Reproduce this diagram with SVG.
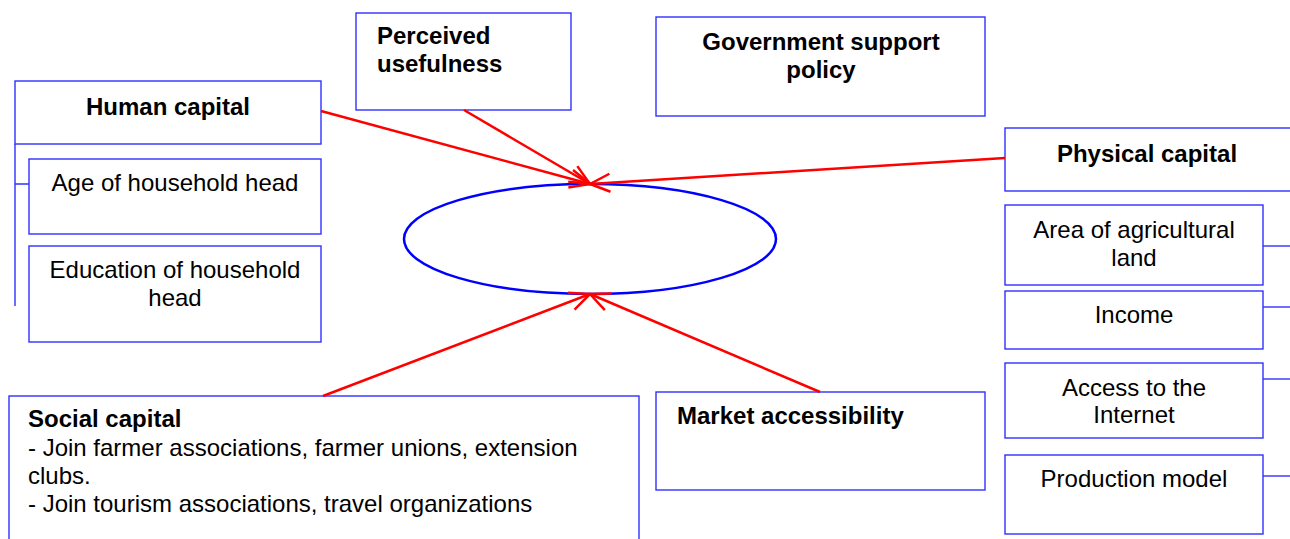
<svg xmlns="http://www.w3.org/2000/svg" width="1290" height="539" viewBox="0 0 1290 539">
<style>
.box{fill:#fff;stroke:#3030ff;stroke-width:1.4}
.ln{fill:none;stroke:#3030ff;stroke-width:1.4}
.t{font-family:"Liberation Sans",Arial,sans-serif;font-size:24px;fill:#000}
.b{font-weight:bold}
.c{text-anchor:middle}
.arr{fill:none;stroke:#ff0000;stroke-width:2.5}
</style>
<defs>
<marker id="ah" markerUnits="userSpaceOnUse" markerWidth="26" markerHeight="26" viewBox="-24 -13 26 26" refX="0" refY="0" orient="auto">
<path d="M-20,-9 L0,0 L-20,9" fill="none" stroke="#ff0000" stroke-width="2.5"/>
</marker>
</defs>
<rect width="1290" height="539" fill="#fff"/>
<g id="outcome"><ellipse cx="590" cy="239" rx="186" ry="55" fill="none" stroke="#0000ff" stroke-width="2.5"/></g>
<g id="human-capital">
<rect class="box" x="15" y="81" width="306" height="63"/>
<text class="t b c" x="168" y="115">Human capital</text>
<path class="ln" d="M15,144 V306 M15,184 H29"/>
</g>
<g id="age">
<rect class="box" x="29" y="159" width="292" height="75"/>
<text class="t c" x="175" y="191">Age of household head</text>
</g>
<g id="education">
<rect class="box" x="29" y="246" width="292" height="96"/>
<text class="t c" x="175" y="278">Education of household</text>
<text class="t c" x="175" y="306">head</text>
</g>
<g id="perceived">
<rect class="box" x="356" y="13" width="215" height="97"/>
<text class="t b" x="377" y="44">Perceived</text>
<text class="t b" x="377" y="72">usefulness</text>
</g>
<g id="government">
<rect class="box" x="656" y="17" width="329" height="99"/>
<text class="t b c" x="821" y="50">Government support</text>
<text class="t b c" x="821" y="78">policy</text>
</g>
<g id="physical-capital">
<rect class="box" x="1005" y="128" width="290" height="63"/>
<text class="t b c" x="1147" y="162">Physical capital</text>
</g>
<g id="area">
<rect class="box" x="1005" y="205" width="258" height="80"/>
<text class="t c" x="1134" y="238">Area of agricultural</text>
<text class="t c" x="1134" y="266">land</text>
<path class="ln" d="M1263,246 H1290"/>
</g>
<g id="income">
<rect class="box" x="1005" y="291" width="258" height="58"/>
<text class="t c" x="1134" y="323">Income</text>
<path class="ln" d="M1263,307 H1290"/>
</g>
<g id="internet">
<rect class="box" x="1005" y="363" width="258" height="75"/>
<text class="t c" x="1134" y="396">Access to the</text>
<text class="t c" x="1134" y="423">Internet</text>
<path class="ln" d="M1263,379 H1290"/>
</g>
<g id="production">
<rect class="box" x="1005" y="455" width="258" height="79"/>
<text class="t c" x="1134" y="487">Production model</text>
<path class="ln" d="M1263,476 H1290"/>
</g>
<g id="social-capital">
<rect class="box" x="9" y="396" width="630" height="150"/>
<text class="t b" x="28" y="427">Social capital</text>
<text class="t" x="28" y="456">- Join farmer associations, farmer unions, extension</text>
<text class="t" x="28" y="484">clubs.</text>
<text class="t" x="28" y="512">- Join tourism associations, travel organizations</text>
</g>
<g id="market">
<rect class="box" x="656" y="392" width="329" height="98"/>
<text class="t b" x="677" y="424">Market accessibility</text>
</g>
<g id="connectors">
<line class="arr" x1="321" y1="111" x2="590" y2="184" marker-end="url(#ah)"/>
<line class="arr" x1="464" y1="110" x2="590" y2="184" marker-end="url(#ah)"/>
<line class="arr" x1="1005" y1="158" x2="590" y2="184" marker-end="url(#ah)"/>
<line class="arr" x1="323" y1="396" x2="590" y2="294" marker-end="url(#ah)"/>
<line class="arr" x1="820" y1="392" x2="590" y2="294" marker-end="url(#ah)"/>
</g>
</svg>
